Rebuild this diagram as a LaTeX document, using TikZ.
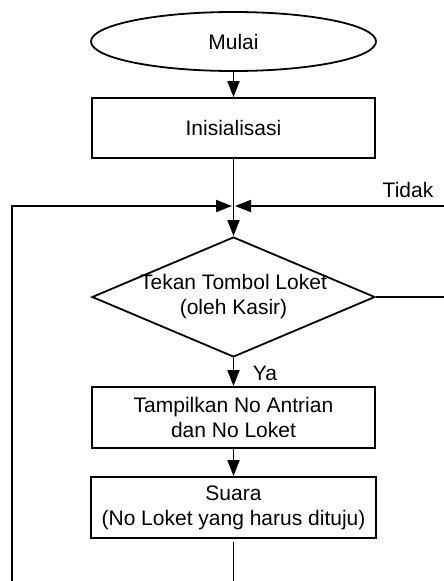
\documentclass[tikz,border=0pt]{standalone}
\usepackage{fontspec}
\setmainfont{Liberation Sans}
\usetikzlibrary{shapes.geometric,arrows.meta}
\begin{document}
\begin{tikzpicture}[x=1pt,y=-1pt,
  every node/.style={font=\fontsize{21}{25}\selectfont},
  line/.style={line width=1.8pt},
  arr/.style={line width=1.8pt,-{Triangle[length=16pt,width=12pt]}},
  procbox/.style={draw,line width=1.8pt,rectangle,minimum width=283pt,minimum height=60pt,inner sep=0pt,align=center},
  termin/.style={draw,line width=1.8pt,ellipse,minimum width=285pt,minimum height=59pt,inner sep=0pt},
  decis/.style={draw,line width=1.8pt,diamond,minimum width=283pt,minimum height=120pt,inner sep=0pt}]
\useasboundingbox (0,0) rectangle (444,581);
\node[termin] (mulai) at (233.5,41.5) {Mulai};
\node[procbox] (init) at (233.5,128) {Inisialisasi};
\coordinate (j) at (233.5,206);
\node[decis, label={[align=center,font=\fontsize{21}{25}\selectfont]center:Tekan Tombol Loket\\(oleh Kasir)}] (dia) at (233.5,297) {};
\node[procbox,minimum height=61pt] (tamp) at (233.5,417.5) {Tampilkan No Antrian\\dan No Loket};
\node[procbox,minimum width=285pt,minimum height=61pt] (suara) at (233.5,507.5) {Suara\\(No Loket yang harus dituju)};
\coordinate (bot) at (233.5,581);
\coordinate (botl) at (12,581);
\coordinate (jl) at (232,206);
\coordinate (jr) at (235,206);
\coordinate (er) at (444,206);
\coordinate (dr) at (444,297);
\node (tidak) at (408,190) {Tidak};
\node (ya) at (265,373) {Ya};
\draw[arr] (mulai) -- (init);
\draw[arr] (init) -- (dia.north);
\draw[arr] (botl) |- (jl);
\draw[arr] (er) -- (jr);
\draw[line] (dia.east) -- (dr);
\draw[arr] (dia.south) -- (tamp);
\draw[arr] (tamp) -- (suara);
\draw[line,shorten <=3pt] (suara.south) -- (bot);
\end{tikzpicture}
\end{document}
